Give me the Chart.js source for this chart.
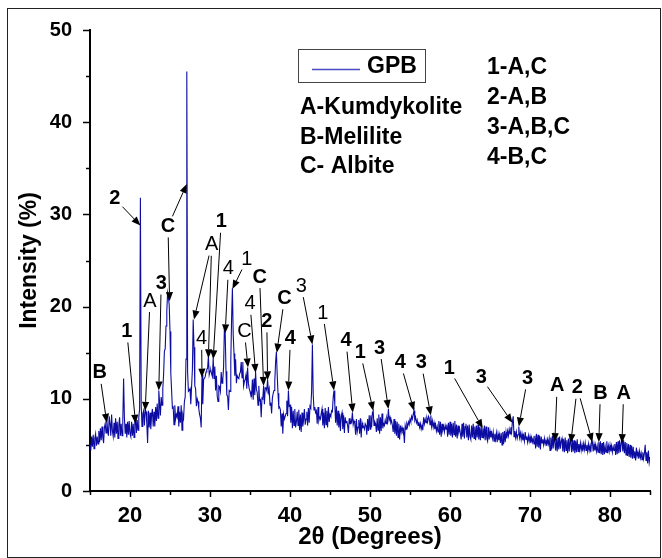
<!DOCTYPE html>
<html>
<head>
<meta charset="utf-8">
<script src="https://cdn.jsdelivr.net/npm/chart.js@4.4.1/dist/chart.umd.min.js"></script>
<style>
  html, body { margin: 0; padding: 0; background: #fff; }
  canvas { display: block; }
</style>
</head>
<body>
<canvas id="xrd" width="662" height="558"></canvas>
<script>
// 2θ sampling of the scan (degrees)
const START = 15;
const STEP = 0.1;

// intensity (%), one row per degree (15.0 .. 85.0)
const INTENSITY = [
  5.0, 4.4, 5.9, 4.8, 6.1, 4.6, 5.7, 6.2, 4.9, 5.9,
  5.1, 6.5, 5.3, 6.8, 5.5, 7.0, 5.8, 5.2, 6.9, 7.3,
  6.3, 7.8, 6.6, 6.0, 8.1, 7.3, 6.0, 8.3, 6.5, 5.9,
  7.4, 5.8, 7.9, 6.2, 7.5, 5.7, 7.1, 8.0, 6.0, 7.3,
  6.0, 7.6, 12.2, 8.0, 6.2, 7.3, 5.8, 7.5, 6.1, 7.6,
  6.2, 5.9, 7.5, 6.0, 7.3, 5.8, 7.6, 7.8, 6.3, 7.7,
  6.6, 8.0, 8.9, 31.8, 9.3, 7.0, 8.4, 8.7, 7.1, 8.9,
  8.6, 7.3, 5.2, 8.7, 6.9, 8.5, 6.7, 8.2, 8.9, 7.0,
  8.6, 7.0, 9.1, 7.6, 9.5, 7.9, 10.9, 9.6, 8.2, 10.2,
  9.3, 11.1, 12.6, 15.2, 15.4, 17.9, 19.5, 21.5, 21.0, 20.2,
  17.3, 12.8, 10.9, 9.0, 9.1, 7.2, 9.3, 7.8, 8.3, 8.0,
  9.2, 7.0, 8.6, 7.4, 9.3, 6.6, 8.3, 7.9, 9.7, 10.2,
  14.3, 45.5, 12.9, 10.8, 10.9, 11.1, 9.4, 11.3, 13.2, 18.6,
  15.6, 11.4, 11.1, 9.2, 10.0, 9.7, 8.9, 8.3, 7.9, 6.9,
  12.6, 9.4, 12.1, 12.2, 12.4, 12.9, 13.2, 13.3, 14.6, 12.6,
  13.0, 13.1, 12.7, 12.4, 14.4, 12.2, 13.5, 10.9, 12.5, 10.3,
  9.7, 11.4, 11.3, 10.8, 12.9, 11.7, 12.1, 13.5, 17.7, 17.1,
  13.0, 10.4, 10.3, 8.8, 10.9, 10.8, 14.1, 18.7, 22.0, 17.0,
  14.9, 12.5, 14.3, 11.7, 12.5, 12.3, 12.2, 12.7, 12.9, 14.0,
  12.3, 14.0, 11.4, 11.9, 12.1, 12.6, 11.1, 13.4, 11.7, 11.1,
  10.8, 10.4, 10.3, 12.1, 9.9, 12.2, 10.4, 12.9, 11.0, 10.7,
  9.3, 11.4, 9.8, 9.9, 8.0, 10.1, 10.0, 11.4, 9.4, 11.2,
  11.2, 10.9, 12.1, 10.7, 11.1, 9.3, 9.6, 8.4, 10.1, 10.6,
  10.9, 11.9, 14.0, 15.1, 12.6, 10.6, 9.0, 9.1, 8.8, 7.0,
  8.4, 6.2, 8.3, 7.8, 8.1, 8.4, 9.8, 8.1, 10.9, 9.2,
  9.3, 7.4, 9.1, 6.8, 8.7, 7.1, 8.9, 6.9, 7.5, 8.6,
  7.1, 8.8, 6.6, 8.3, 6.4, 8.5, 7.0, 7.7, 8.9, 7.2,
  7.8, 8.6, 7.1, 9.0, 7.4, 9.2, 9.0, 10.8, 15.9, 10.5,
  8.8, 9.1, 8.5, 8.7, 7.3, 9.1, 7.6, 8.0, 7.8, 8.4,
  8.9, 7.1, 8.5, 6.8, 9.0, 7.2, 8.7, 6.9, 9.1, 7.5,
  8.3, 8.1, 8.7, 8.6, 10.2, 10.9, 9.4, 7.4, 9.2, 7.1,
  8.7, 6.9, 8.4, 6.5, 8.1, 8.5, 6.7, 8.2, 6.3, 8.0,
  7.4, 7.6, 7.1, 6.3, 7.9, 7.3, 7.7, 7.5, 8.5, 7.2,
  7.6, 7.3, 6.1, 7.8, 6.4, 6.9, 7.7, 6.2, 7.9, 5.8,
  7.4, 6.9, 7.0, 6.7, 7.3, 7.1, 6.1, 7.8, 6.5, 8.2,
  6.7, 8.2, 6.9, 8.5, 8.7, 7.1, 7.5, 7.3, 6.4, 7.9,
  6.6, 8.3, 6.2, 8.0, 6.5, 8.4, 6.8, 7.3, 7.1, 7.7,
  7.3, 7.9, 7.5, 8.9, 7.7, 8.0, 7.4, 7.6, 7.1, 6.4,
  7.8, 6.2, 7.6, 6.0, 7.5, 5.8, 7.3, 5.6, 7.1, 6.4,
  6.9, 6.5, 6.7, 5.2, 7.1, 6.7, 7.3, 7.0, 7.5, 7.2,
  7.8, 7.5, 8.1, 7.8, 8.3, 8.7, 7.7, 8.0, 7.4, 7.7,
  7.1, 7.5, 6.9, 7.3, 6.7, 7.1, 6.6, 8.0, 7.3, 7.8,
  7.4, 7.9, 7.5, 8.1, 7.9, 7.2, 8.2, 7.0, 7.6, 6.9,
  7.4, 6.7, 7.2, 6.5, 7.0, 6.4, 7.6, 6.1, 7.5, 5.9,
  7.3, 6.6, 7.0, 6.4, 7.1, 6.7, 7.2, 5.9, 7.4, 6.1,
  7.5, 6.0, 7.3, 5.8, 7.4, 6.1, 7.6, 5.9, 7.2, 5.7,
  7.1, 6.4, 6.8, 6.2, 5.6, 7.3, 5.9, 7.4, 5.7, 7.0,
  7.3, 5.8, 7.1, 5.5, 7.2, 5.9, 5.6, 7.1, 5.8, 7.3,
  5.7, 7.0, 5.5, 7.1, 5.8, 7.2, 5.6, 6.9, 5.5, 7.0,
  5.8, 6.8, 5.7, 7.1, 5.5, 7.0, 5.7, 5.4, 6.9, 5.6,
  6.5, 5.8, 6.3, 5.7, 6.4, 5.4, 6.2, 5.6, 6.3, 5.3,
  6.2, 5.5, 6.1, 5.2, 6.3, 5.0, 6.4, 5.1, 6.5, 5.3,
  6.4, 5.7, 6.5, 6.0, 6.7, 6.2, 6.9, 6.4, 7.5, 8.1,
  5.9, 6.5, 5.8, 6.4, 5.7, 6.1, 7.0, 5.8, 6.3, 5.6,
  6.2, 5.5, 6.0, 5.4, 6.4, 5.6, 5.9, 5.3, 6.0, 5.4,
  5.9, 5.2, 5.8, 5.3, 5.7, 5.1, 6.0, 4.6, 6.2, 4.8,
  6.1, 4.7, 6.0, 4.5, 5.9, 5.2, 5.6, 5.0, 5.7, 5.1,
  5.5, 4.9, 5.6, 5.1, 5.7, 4.4, 5.8, 4.5, 6.0, 4.6,
  5.9, 5.3, 4.4, 5.7, 4.3, 5.8, 4.5, 5.9, 4.6, 5.4,
  5.7, 4.3, 5.6, 4.2, 5.8, 4.4, 5.5, 4.1, 5.7, 4.3,
  5.5, 5.2, 4.2, 5.6, 4.3, 5.5, 4.1, 5.4, 4.2, 5.6,
  4.3, 5.1, 4.5, 5.2, 4.4, 5.0, 4.3, 5.1, 4.5, 5.2,
  4.4, 5.0, 4.3, 5.1, 4.4, 4.9, 4.2, 5.5, 5.3, 4.3,
  5.1, 4.4, 5.0, 4.3, 4.9, 4.2, 5.3, 4.1, 5.4, 4.0,
  5.2, 3.9, 5.3, 4.0, 4.8, 4.2, 5.4, 4.1, 4.9, 4.3,
  5.0, 4.3, 4.9, 4.2, 4.8, 4.4, 5.1, 3.9, 5.3, 4.0,
  5.4, 4.1, 5.5, 4.2, 5.2, 5.6, 4.3, 5.5, 4.1, 5.3,
  3.9, 5.2, 3.8, 5.1, 3.7, 5.0, 3.6, 4.9, 3.5, 4.8,
  3.6, 4.3, 3.3, 4.7, 3.8, 4.2, 3.5, 4.3, 3.6, 4.1,
  3.4, 4.2, 3.5, 4.1, 5.0, 3.3, 4.2, 3.0, 4.4, 3.1,
  3.7
];

const X_TICKS = [15, 20, 25, 30, 35, 40, 45, 50, 55, 60, 65, 70, 75, 80, 85];
const Y_TICKS = [0, 5, 10, 15, 20, 25, 30, 35, 40, 45, 50];

const PHASES = ['A-Kumdykolite', 'B-Melilite', 'C- Albite'];
const COMBOS = ['1-A,C', '2-A,B', '3-A,B,C', '4-B,C'];

// peak labels: text, bold?, label centre [2θ, I], arrow tips [[2θ, I], ...]
const PEAK_LABELS = [
  ['B', 1, [16.2, 12.8], [[17.1, 7.4]]],
  ['1', 1, [19.6, 17.3], [[20.7, 7.3]]],
  ['2', 1, [18.1, 31.7], [[21.3, 28.8]]],
  ['A', 0, [22.5, 20.6], [[21.9, 8.7]]],
  ['3', 1, [23.9, 22.5], [[23.6, 10.9]]],
  ['C', 1, [24.75, 28.7], [[24.95, 20.6], [27.1, 33.3]]],
  ['A', 0, [30.2, 26.7], [[28.0, 18.6], [29.8, 14.4]]],
  ['1', 1, [31.4, 29.2], [[30.4, 14.3]]],
  ['4', 0, [28.95, 16.5], [[29.0, 12.3]]],
  ['4', 0, [32.3, 24.1], [[31.9, 17.1]]],
  ['1', 0, [34.6, 25.1], [[32.8, 21.9]]],
  ['C', 0, [34.3, 17.3], [[34.75, 13.4]]],
  ['C', 1, [36.2, 23.2], [[36.7, 11.4]]],
  ['4', 0, [35.0, 20.3], [[35.7, 12.8]]],
  ['2', 1, [37.1, 18.4], [[37.2, 12.0]]],
  ['C', 1, [39.3, 20.9], [[38.35, 15.0]]],
  ['4', 1, [40.05, 16.5], [[39.8, 10.9]]],
  ['3', 0, [41.4, 22.2], [[42.8, 15.9]]],
  ['1', 0, [44.1, 19.3], [[45.5, 10.9]]],
  ['4', 1, [47.0, 16.3], [[47.85, 8.5]]],
  ['1', 1, [48.8, 15.0], [[50.4, 8.7]]],
  ['3', 1, [51.2, 15.5], [[52.3, 8.9]]],
  ['4', 1, [53.8, 13.9], [[55.5, 8.7]]],
  ['3', 1, [56.4, 13.9], [[57.6, 8.2]]],
  ['1', 1, [59.9, 13.25], [[64.1, 6.8]]],
  ['3', 1, [63.9, 12.3], [[67.8, 7.4]]],
  ['3', 1, [69.7, 12.2], [[68.6, 7.0]]],
  ['A', 1, [73.4, 11.4], [[73.1, 5.3]]],
  ['2', 1, [75.9, 11.2], [[75.1, 5.2], [77.8, 5.3]]],
  ['B', 1, [78.8, 10.6], [[78.6, 5.3]]],
  ['A', 1, [81.7, 10.6], [[81.5, 5.2]]]
];

const FONT = '"Liberation Sans", Arial, sans-serif';
const TRACE = '#0c0ca2';

const points = INTENSITY.map((v, i) => ({ x: +(START + i * STEP).toFixed(1), y: v }));

function arrow(ctx, sx, sy, tx, ty) {
  const a = Math.atan2(ty - sy, tx - sx);
  const len = 9, half = 3.6;
  const bx = tx - Math.cos(a) * len, by = ty - Math.sin(a) * len;
  ctx.beginPath();
  ctx.moveTo(sx, sy);
  ctx.lineTo(bx, by);
  ctx.stroke();
  ctx.beginPath();
  ctx.moveTo(tx, ty);
  ctx.lineTo(bx + Math.sin(a) * half, by - Math.cos(a) * half);
  ctx.lineTo(bx - Math.sin(a) * half, by + Math.cos(a) * half);
  ctx.closePath();
  ctx.fill();
}

const decor = {
  id: 'decor',
  beforeDraw(chart) {
    const ctx = chart.ctx;
    ctx.save();
    ctx.fillStyle = '#fff';
    ctx.fillRect(0, 0, chart.width, chart.height);
    ctx.restore();
  },
  afterDraw(chart) {
    const { ctx, scales: { x, y } } = chart;
    ctx.save();
    ctx.strokeStyle = '#000';
    ctx.fillStyle = '#000';

    // outer frame
    ctx.lineWidth = 1;
    ctx.strokeStyle = '#222';
    ctx.strokeRect(7.5, 8.5, 653, 549);
    ctx.strokeStyle = '#000';

    // tick marks (major longer than minor)
    ctx.lineWidth = 1.5;
    X_TICKS.forEach(v => {
      const px = Math.round(x.getPixelForValue(v)) + 0.5;
      const l = v % 10 === 0 ? 6 : 4;
      ctx.beginPath(); ctx.moveTo(px, y.bottom); ctx.lineTo(px, y.bottom + l); ctx.stroke();
    });
    Y_TICKS.forEach(v => {
      const py = Math.round(y.getPixelForValue(v)) + 0.5;
      const l = v % 10 === 0 ? 7 : 4;
      ctx.beginPath(); ctx.moveTo(x.left, py); ctx.lineTo(x.left - l, py); ctx.stroke();
    });

    // legend box
    ctx.lineWidth = 1;
    ctx.strokeStyle = '#444';
    ctx.strokeRect(298.5, 49.5, 127, 33);
    ctx.strokeStyle = '#4a4ac4';
    ctx.lineWidth = 1.5;
    ctx.beginPath(); ctx.moveTo(312, 69.5); ctx.lineTo(360, 69.5); ctx.stroke();
    ctx.textBaseline = 'middle';
    ctx.textAlign = 'left';
    ctx.font = 'bold 23px ' + FONT;
    ctx.fillText(chart.data.datasets[0].label, 367, 67);

    // phase key
    PHASES.forEach((t, i) => ctx.fillText(t, 300, 108 + i * 29.5));
    COMBOS.forEach((t, i) => ctx.fillText(t, 487, 68 + i * 30));

    // peak labels with arrows
    ctx.strokeStyle = '#000';
    ctx.lineWidth = 1;
    ctx.textAlign = 'center';
    PEAK_LABELS.forEach(([text, bold, at, tips]) => {
      const lx = x.getPixelForValue(at[0]);
      const ly = y.getPixelForValue(at[1]);
      ctx.font = (bold ? 'bold ' : '') + '20px ' + FONT;
      ctx.fillText(text, lx, ly);
      tips.forEach(([tv, ti]) => {
        const tx = x.getPixelForValue(tv);
        const ty = y.getPixelForValue(ti);
        const d = Math.hypot(tx - lx, ty - ly);
        const r = 11;
        arrow(ctx, lx + (tx - lx) / d * r, ly + (ty - ly) / d * r, tx, ty);
      });
    });
    ctx.restore();
  }
};

new Chart(document.getElementById('xrd'), {
  type: 'line',
  data: {
    datasets: [{
      label: 'GPB',
      data: points,
      borderColor: TRACE,
      borderWidth: 1.1,
      pointRadius: 0,
      tension: 0,
      fill: false
    }]
  },
  options: {
    responsive: false,
    animation: false,
    devicePixelRatio: 1,
    layout: { padding: { left: 8, right: 5, top: 27, bottom: 0 } },
    plugins: { legend: { display: false }, tooltip: { enabled: false } },
    scales: {
      x: {
        type: 'linear',
        min: 15,
        max: 85,
        afterFit: s => { s.height = 67; },
        grid: { display: false, drawTicks: false },
        border: { display: true, color: '#000', width: 2 },
        ticks: {
          stepSize: 5,
          autoSkip: false,
          maxRotation: 0,
          padding: 12,
          color: '#000',
          font: { family: FONT, size: 22, weight: 'bold' },
          callback: v => (v % 10 === 0 ? v : '')
        },
        title: {
          display: true,
          text: '2θ (Degrees)',
          color: '#000',
          font: { family: FONT, size: 24, weight: 'bold' },
          padding: { top: 0, bottom: 6 }
        }
      },
      y: {
        min: 0,
        max: 50,
        afterFit: s => { s.width = 82; },
        grid: { display: false, drawTicks: false },
        border: { display: true, color: '#000', width: 2 },
        ticks: {
          stepSize: 10,
          padding: 18,
          color: '#000',
          font: { family: FONT, size: 20, weight: 'bold' }
        },
        title: {
          display: true,
          text: 'Intensity (%)',
          color: '#000',
          font: { family: FONT, size: 23, weight: 'bold' },
          padding: { top: 8, bottom: 0 }
        }
      }
    }
  },
  plugins: [decor]
});
</script>
</body>
</html>
